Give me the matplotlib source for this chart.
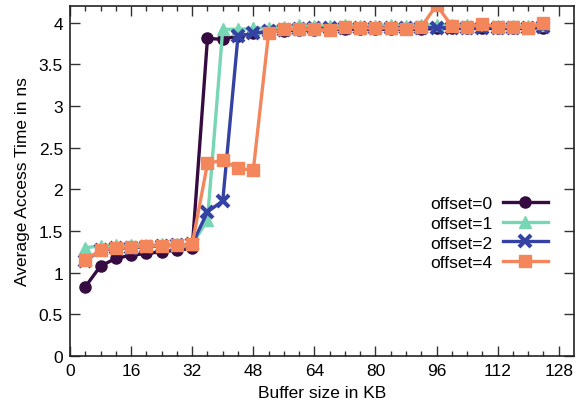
import matplotlib
matplotlib.use('Agg')
import matplotlib.pyplot as plt
from matplotlib.ticker import MultipleLocator

plt.rcParams['font.family'] = ['Liberation Sans', 'DejaVu Sans']

# buffer sizes in KB
sizes = list(range(4, 128, 4))

off0 = [0.83, 1.08, 1.17, 1.21, 1.23, 1.25, 1.27, 1.29,   # 4..32
        3.81, 3.80, 3.84, 3.87, 3.89, 3.90, 3.91, 3.91,   # 36..64
        3.92, 3.92, 3.92, 3.92, 3.92, 3.92, 3.92, 3.93,   # 68..96
        3.93, 3.93, 3.93, 3.93, 3.93, 3.93, 3.94]         # 100..124
off1 = [1.30, 1.32, 1.33, 1.33, 1.33, 1.34, 1.34, 1.34,
        1.63, 3.92, 3.92, 3.93, 3.94, 3.95, 3.97, 3.96,
        3.96, 3.97, 3.96, 3.96, 3.97, 3.96, 3.97, 3.97,
        3.97, 3.97, 3.97, 3.96, 3.96, 3.96, 3.97]
off2 = [1.14, 1.27, 1.29, 1.30, 1.31, 1.32, 1.33, 1.34,
        1.73, 1.86, 3.84, 3.87, 3.90, 3.91, 3.92, 3.93,
        3.93, 3.93, 3.94, 3.94, 3.94, 3.94, 3.94, 3.94,
        3.94, 3.94, 3.94, 3.94, 3.94, 3.94, 3.95]
off4 = [1.15, 1.27, 1.30, 1.31, 1.32, 1.32, 1.33, 1.34,
        2.31, 2.35, 2.25, 2.23, 3.87, 3.92, 3.92, 3.92,
        3.91, 3.95, 3.94, 3.93, 3.94, 3.92, 3.95, 4.21,
        3.96, 3.95, 3.98, 3.95, 3.95, 3.94, 3.99]

labels = ['offset=0', 'offset=1', 'offset=2', 'offset=4']
series = [off0, off1, off2, off4]
colors = ['#360b41', '#77d6b3', '#3342a3', '#f4865c']
markers = ['o', '^', 'x', 's']

fig = plt.figure(figsize=(5.8, 4.1), dpi=100)
ax = fig.add_axes([0.1207, 0.1293, 0.869, 0.8537])

for ys, lab, c, m in zip(series, labels, colors, markers):
    kw = dict(markersize=8)
    if m == 'x':
        kw = dict(markersize=9, markeredgewidth=3)
    ax.plot(sizes, ys, color=c, marker=m, linewidth=2.4, label=lab, **kw)

ax.set_xlim(0, 132)
ax.set_ylim(0, 4.2)
ax.set_xticks(range(0, 129, 16))
ax.set_xticks(range(0, 129, 4), minor=True)
ax.set_yticks([0, 0.5, 1, 1.5, 2, 2.5, 3, 3.5, 4])
ax.set_yticklabels(['0', '0.5', '1', '1.5', '2', '2.5', '3', '3.5', '4'])
ax.tick_params(which='both', direction='in', top=True, right=True,
               labelsize=12.5, color='#333333')
ax.tick_params(which='major', length=7.2, width=1, pad=5)
ax.tick_params(which='minor', length=3.6, width=1)
for s in ax.spines.values():
    s.set_linewidth(1.2)
    s.set_color('#222222')

ax.set_xlabel('Buffer size in KB', fontsize=12.5, labelpad=5)
ax.set_ylabel('Average Access Time in ns', fontsize=12.5, labelpad=6)

ax.legend(loc='center right', bbox_to_anchor=(0.948, 0.351), frameon=False,
          markerfirst=False, fontsize=12.5, handlelength=2.6,
          handletextpad=0.57, labelspacing=0.26, borderpad=0, borderaxespad=0)

fig.savefig('out.png', dpi=100)
